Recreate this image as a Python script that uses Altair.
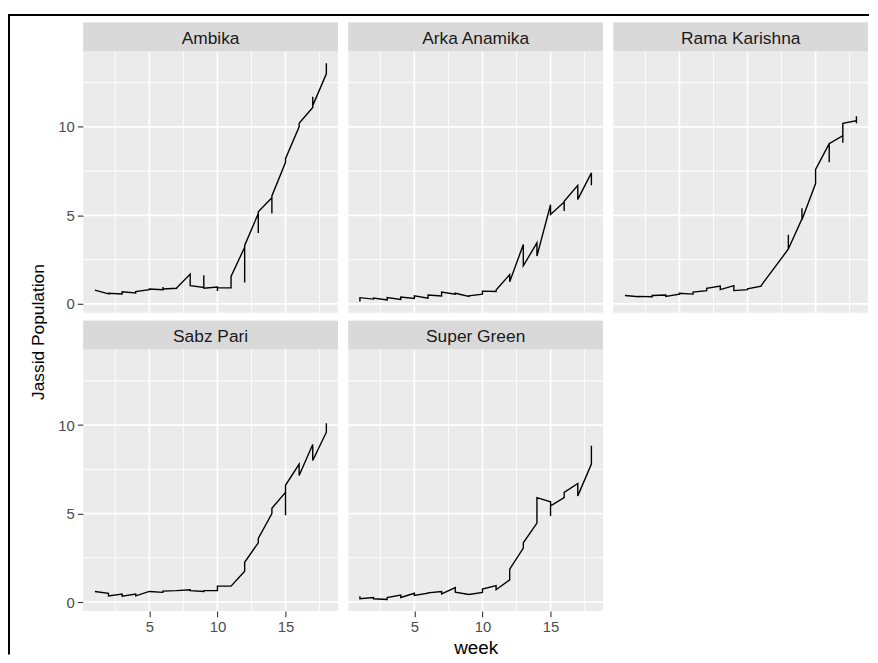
import altair as alt
import pandas as pd

# ---------------- data ----------------
varieties = ["Ambika", "Arka Anamika", "Rama Karishna", "Sabz Pari", "Super Green"]
weeks = list(range(1, 19))

# replicate values per week, in plotting order
ambika = [
    [0.78], [0.56, 0.6], [0.56, 0.68], [0.62, 0.69], [0.8, 0.84], [0.8, 0.95, 0.84],
    [0.88, 0.9], [1.68, 1.03], [0.93, 1.62, 0.88], [0.95, 0.72, 0.9], [0.9, 1.55],
    [3.2, 1.2, 3.3], [5.1, 4.0, 5.2], [6.0, 5.1, 6.1], [8.0, 8.2], [10.0, 10.2],
    [11.1, 11.7, 11.2], [13.0, 13.6, 13.2],
]
arka_anamika = [
    [0.13, 0.35], [0.27, 0.33], [0.22, 0.36], [0.25, 0.38], [0.3, 0.46], [0.32, 0.5],
    [0.45, 0.66], [0.55, 0.6], [0.42, 0.45], [0.55, 0.72], [0.7, 0.78],
    [1.65, 1.25], [3.35, 2.15], [3.45, 2.7], [5.6, 5.05], [5.75, 5.25, 5.8],
    [6.7, 5.9], [7.4, 6.7],
]
rama_karishna = [
    [0.47], [0.4, 0.42], [0.4, 0.47], [0.5, 0.42], [0.55, 0.6], [0.55, 0.66],
    [0.75, 0.88], [1.0, 0.8], [1.03, 0.75], [0.8, 0.85], [1.0, 1.03],
    [2.06], [3.1, 3.9, 3.1], [4.8, 5.4, 4.75], [6.8, 7.6], [9.05, 8.0, 9.05],
    [9.5, 9.1, 10.2], [10.35, 10.6, 10.2],
]
sabz_pari = [
    [0.6], [0.5, 0.35], [0.45, 0.33], [0.45, 0.35], [0.6], [0.55, 0.62],
    [0.65], [0.7, 0.65], [0.6, 0.65], [0.65, 0.9], [0.9],
    [1.75, 2.25], [3.35, 3.6], [5.0, 5.3], [6.2, 4.9, 6.6], [7.8, 7.15],
    [8.9, 8.0], [9.6, 10.1, 9.9],
]
super_green = [
    [0.33, 0.19], [0.26, 0.19], [0.15, 0.26], [0.4, 0.26], [0.5, 0.37], [0.5, 0.52],
    [0.6, 0.46], [0.82, 0.56], [0.43], [0.55, 0.74], [0.93, 0.7],
    [1.26, 1.86], [3.05, 3.35], [4.46, 5.9], [5.67, 4.87, 5.43], [5.9, 6.2],
    [6.7, 6.0], [7.8, 8.83],
]
series = dict(zip(varieties, [ambika, arka_anamika, rama_karishna, sabz_pari, super_green]))

major_x = [5, 10, 15]
major_y = [0, 5, 10]
minor_x = [2.5, 7.5, 12.5, 17.5]
minor_y = [2.5, 7.5, 12.5]

rows = []
for v, vals in series.items():
    seq = 0
    for w, reps in zip(weeks, vals):
        for r in reps:
            rows.append({"variety": v, "week": w, "pop": r, "seq": seq})
            seq += 1
df = pd.DataFrame(rows)

# ---------------- styling ----------------
FONT = "Liberation Sans"
XDOM = [0.15, 18.85]
YDOM = [-0.5, 14.28]
W, H, SH = 257, 264, 29          # panel width, plot height, strip height
PANEL_BG = "#EBEBEB"
STRIP_BG = "#D9D9D9"

# grid lines (ggplot style: major + minor), one table for both directions
grid_rows = []
for gx in minor_x:
    grid_rows.append({"gx1": gx, "gx2": gx, "gy1": YDOM[0], "gy2": YDOM[1], "gw": 0.9})
for gx in major_x:
    grid_rows.append({"gx1": gx, "gx2": gx, "gy1": YDOM[0], "gy2": YDOM[1], "gw": 1.7})
for gy in minor_y:
    grid_rows.append({"gx1": XDOM[0], "gx2": XDOM[1], "gy1": gy, "gy2": gy, "gw": 1.0})
for gy in major_y:
    grid_rows.append({"gx1": XDOM[0], "gx2": XDOM[1], "gy1": gy, "gy2": gy, "gw": 1.6})
grid_df = pd.DataFrame(grid_rows)


def make_axis(values, show, title=None, **kw):
    args = dict(values=values, grid=False, domain=False, labels=show, ticks=show,
                title=title, labelFont=FONT, labelFontSize=15,
                labelColor="#4D4D4D", tickColor="#333333", tickSize=6, tickWidth=1.1,
                labelPadding=3, titleFont=FONT, titleColor="black",
                titleFontWeight="normal")
    args.update(kw)
    return alt.Axis(**args)


def panel(name, show_x, show_y, x_title=None, y_title=None, frame=False):
    d = df[df.variety == name]
    xs = alt.Scale(domain=XDOM, nice=False, zero=False)
    # the plot occupies the area below the strip
    ys = alt.Scale(domain=YDOM, nice=False, zero=False, range=[H + SH, SH])
    xkw = {}
    if x_title:
        xkw.update(titleFontSize=19, titleY=43, titleBaseline="alphabetic")
    ykw = {}
    if y_title:
        ykw.update(titleFontSize=17.5, titleAngle=270, titleX=-40, titleY=312,
                   titleBaseline="alphabetic", titleAlign="center")
    xaxis = make_axis(major_x, show_x, x_title, **xkw)
    yaxis = make_axis(major_y, show_y, y_title, **ykw)

    grid = alt.Chart(grid_df).mark_rule(color="white").encode(
        x=alt.X("gx1:Q", scale=xs, axis=xaxis),
        x2="gx2:Q",
        y=alt.Y("gy1:Q", scale=ys, axis=yaxis),
        y2="gy2:Q",
        strokeWidth=alt.StrokeWidth("gw:Q", scale=None),
    )

    line = alt.Chart(d).mark_line(color="black", strokeWidth=1.4).encode(
        x=alt.X("week:Q", scale=xs, axis=xaxis),
        y=alt.Y("pop:Q", scale=ys, axis=yaxis),
        order=alt.Order("seq:Q"),
    )

    sdf = pd.DataFrame({"variety": [name]})
    strip_bg = alt.Chart(sdf).mark_rect(color=STRIP_BG).encode(
        x=alt.value(0), x2=alt.value(W), y=alt.value(0), y2=alt.value(SH))
    strip_text = alt.Chart(sdf).mark_text(
        font=FONT, fontSize=17.5, color="#1A1A1A", align="center", baseline="alphabetic"
    ).encode(text="variety:N", x=alt.value(W / 2), y=alt.value(22))
    layers = [grid, line, strip_bg, strip_text]
    if frame:
        # outer black frame of the reference picture (left and top edges)
        layers.append(alt.Chart(sdf).mark_rule(color="black", strokeWidth=2).encode(
            x=alt.value(-75), y=alt.value(-8.5), y2=alt.value(638)))
        layers.append(alt.Chart(sdf).mark_rule(color="black", strokeWidth=2).encode(
            x=alt.value(-75), x2=alt.value(793), y=alt.value(-7.5)))
    return alt.layer(*layers).properties(
        width=W, height=H + SH, view=alt.ViewBackground(fill=PANEL_BG, stroke=None)
    )


chart = alt.concat(
    panel("Ambika", False, True, y_title="Jassid Population", frame=True),
    panel("Arka Anamika", False, False),
    panel("Rama Karishna", False, False),
    panel("Sabz Pari", True, True),
    panel("Super Green", True, False, x_title="week"),
    columns=3,
    spacing=alt.RowColnumber(row=8, column=10.5),
    bounds="flush",
).properties(
    padding={"left": 0, "top": 1.5, "right": 0, "bottom": 0}
).configure(font=FONT).configure_view(stroke=None)

chart.save("out.html", embed_options={"renderer": "svg", "actions": False})
